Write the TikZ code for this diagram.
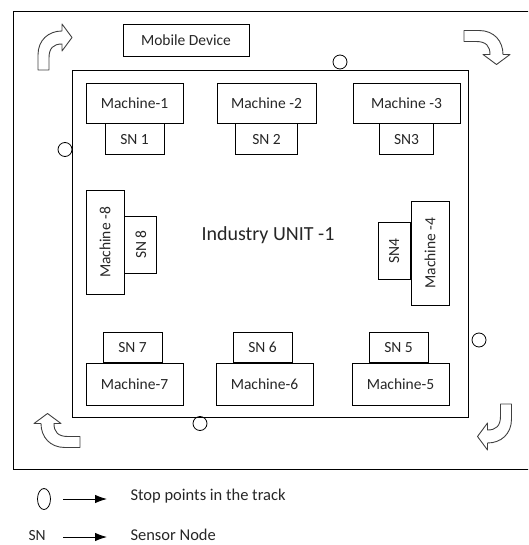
\documentclass[tikz,border=0pt]{standalone}
\usepackage{fontspec}
\setmainfont{Carlito}
\usepackage{graphicx}
\usetikzlibrary{positioning,arrows.meta,shapes.geometric}

\tikzset{
  turnarrow/.pic={
    \draw[turn] (-5.5,0) -- (-5.5,-15) .. controls (-5.5,-30) and (5,-39) .. (18.5,-39)
      -- (18.5,-46) -- (28.5,-32.5) -- (18.5,-19) -- (18.5,-26)
      .. controls (10,-26) and (5.5,-22) .. (5.5,-12) -- (5.5,0) -- cycle;
  }
}

\begin{document}
\begin{tikzpicture}[
  x=1pt, y=-1pt,
  every node/.style={font=\fontsize{15.5}{18}\selectfont, text=black!85},
  box/.style={draw, line width=0.8pt, inner sep=0pt},
  machine/.style={box, minimum width=97pt, minimum height=40pt},
  sensor/.style={box, minimum width=59pt, minimum height=31pt},
  vmachine/.style={box, minimum width=38pt, minimum height=104pt},
  vsensor/.style={box, minimum width=32pt, minimum height=57pt},
  stopmark/.style={draw, circle, line width=0.8pt, minimum size=14pt, inner sep=0pt},
  turn/.style={draw=black!75, line width=0.9pt, line join=round},
  legendtext/.style={anchor=west, font=\fontsize{16.5}{19}\selectfont},
  >={Latex[length=12pt,width=8.5pt]},
]
\useasboundingbox (0,0) rectangle (528,545);
\clip (0,0) rectangle (528,545);

% track and unit
\draw[line width=0.9pt] (13,11) rectangle (545,469);
\draw[line width=0.9pt] (72,70) rectangle (468,417);
\node[box, minimum width=126pt, minimum height=32pt] (mob) at (186,40) {Mobile Device};
\node[font=\fontsize{20}{23}\selectfont] (unit) at (268,235) {Industry UNIT -1};

% top row
\node[machine] (m1) at (134.5,103) {Machine-1};
\node[sensor, below=0pt of m1] (s1) {SN 1};
\node[machine, minimum width=99pt] (m2) at (266.5,103) {Machine -2};
\node[sensor, minimum width=62pt, below=0pt of m2] (s2) {SN 2};
\node[machine, minimum width=107pt] (m3) at (406.5,103) {Machine -3};
\node[sensor, minimum width=54pt, below=0pt of m3] (s3) {SN3};

% sides
\node[vmachine] (m8) at (105,242.5) {\rotatebox{90}{Machine -8}};
\node[vsensor, right=0pt of m8, yshift=-2pt] (s8) {\rotatebox{90}{SN 8}};
\node[vmachine] (m4) at (430,253) {\rotatebox{90}{Machine -4}};
\node[vsensor, left=0pt of m4, yshift=2pt] (s4) {\rotatebox{90}{SN4}};

% bottom row
\node[machine, minimum height=42pt] (m7) at (134.5,384) {Machine-7};
\node[sensor, minimum height=30pt, above=0pt of m7, xshift=-2pt] (s7) {SN 7};
\node[machine, minimum height=42pt] (m6) at (264.5,384) {Machine-6};
\node[sensor, minimum height=30pt, above=0pt of m6, xshift=-2pt] (s6) {SN 6};
\node[machine, minimum height=42pt] (m5) at (400.5,384) {Machine-5};
\node[sensor, minimum height=30pt, above=0pt of m5, xshift=-2pt] (s5) {SN 5};

% stop points
\node[stopmark] (p1) at (340,62) {};
\node[stopmark] (p2) at (479,340) {};
\node[stopmark] (p3) at (200,423.5) {};
\node[stopmark] (p4) at (65,149.5) {};

% direction of the track
\pic at (43.5,70) {turnarrow};
\pic[rotate=-90] at (464,36) {turnarrow};
\pic[rotate=180] at (506,404) {turnarrow};
\pic[rotate=90] at (80,442) {turnarrow};

% legend
\node[draw, ellipse, line width=0.8pt, minimum width=13pt, minimum height=21pt, inner sep=0pt] (lgstop) at (44,499) {};
\node[anchor=west] (lgsn) at (25,535.5) {SN};
\coordinate (a1) at (63,499);
\coordinate (b1) at (107,499);
\coordinate (a2) at (63,537);
\coordinate (b2) at (107,537);
\node[legendtext] (txstop) at (127,496) {Stop points in the track};
\node[legendtext] (txsn) at (127,534.5) {Sensor Node};
\draw[->, line width=0.9pt] (a1) -- (b1);
\draw[->, line width=0.9pt] (a2) -- (b2);
\end{tikzpicture}
\end{document}
